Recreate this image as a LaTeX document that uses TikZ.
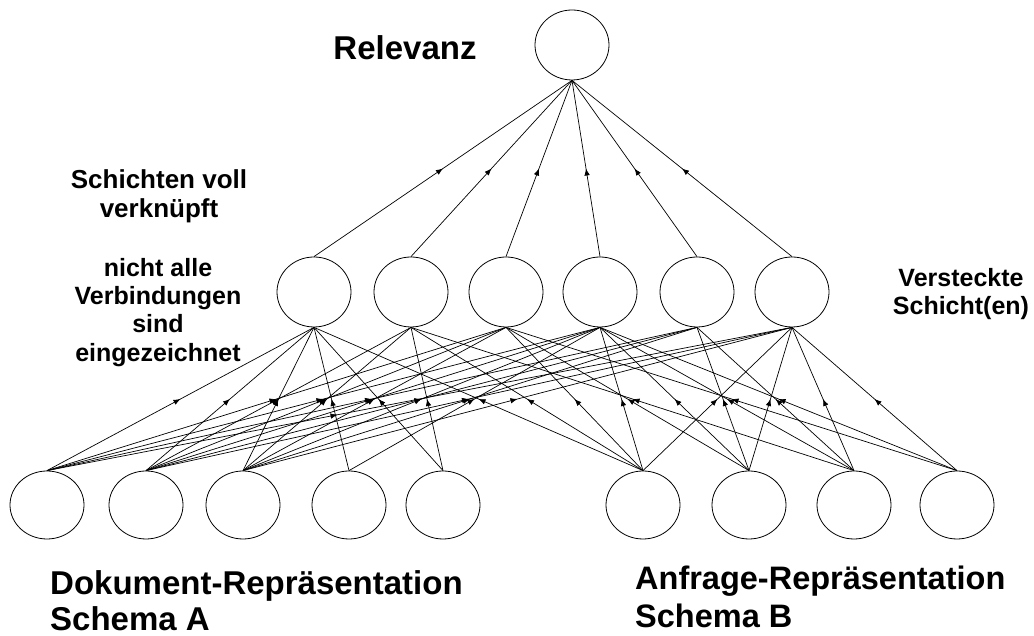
\documentclass[tikz,border=0pt]{standalone}
\usepackage{fontspec}
\setmainfont{Liberation Sans}
\usetikzlibrary{shapes.geometric,arrows.meta,decorations.markings}

\begin{document}
\begin{tikzpicture}[x=1pt,y=1pt,
  unit/.style={ellipse,draw,line width=0.8pt,minimum width=74pt,minimum height=68pt,inner sep=0pt},
  link/.style={line width=0.7pt,decoration={markings,mark=at position #1 with {\arrow{Latex[length=7pt,width=5.5pt]}}},postaction={decorate}},
  link/.default=0.5,
  note/.style={inner sep=0pt,align=center,font=\bfseries\fontsize{25}{28.3}\selectfont}]
\useasboundingbox (0,0) rectangle (1034,636);
\node[unit,minimum height=70pt] (rel) at (572,591) {};
\node[unit,minimum height=70pt] (hid1) at (314,344) {};
\node[unit,minimum height=70pt] (hid2) at (411,344) {};
\node[unit,minimum height=70pt] (hid3) at (506,344) {};
\node[unit,minimum height=70pt] (hid4) at (600,344) {};
\node[unit,minimum height=70pt] (hid5) at (697,344) {};
\node[unit,minimum height=70pt] (hid6) at (792,344) {};
\node[unit] (doc1) at (47,131) {};
\node[unit] (doc2) at (146,131) {};
\node[unit] (doc3) at (243,131) {};
\node[unit] (doc4) at (349,131) {};
\node[unit] (doc5) at (443,131) {};
\node[unit] (qry1) at (643,131) {};
\node[unit] (qry2) at (749,131) {};
\node[unit] (qry3) at (854,131) {};
\node[unit] (qry4) at (957,131) {};
\node[font=\bfseries\fontsize{33}{33}\selectfont] (relText) at (405,588) {Relevanz};
\node[note,anchor=north,font=\bfseries\fontsize{26}{29.5}\selectfont] (fullText) at (159,467) {Schichten voll\\verknüpft};
\node[note,anchor=north] (partText) at (158,378) {nicht alle\\Verbindungen\\sind\\eingezeichnet};
\node[note,anchor=north] (hidText) at (961,368) {Versteckte\\Schicht(en)};
\node[note,anchor=north west,align=left,font=\bfseries\fontsize{33}{36}\selectfont] (docText) at (50,66) {Dokument-Repräsentation\\Schema A};
\node[note,anchor=north west,align=left,font=\bfseries\fontsize{32.5}{37.5}\selectfont] (qryText) at (635,70) {Anfrage-Repräsentation\\Schema B};
\draw[link] (hid1.north) -- (rel.south);
\draw[link] (hid2.north) -- (rel.south);
\draw[link] (hid3.north) -- (rel.south);
\draw[link] (hid4.north) -- (rel.south);
\draw[link] (hid5.north) -- (rel.south);
\draw[link] (hid6.north) -- (rel.south);
\draw[link] (doc1.north) -- (hid1.south);
\draw[link] (doc1.north) -- (hid3.south);
\draw[link] (doc1.north) -- (hid4.south);
\draw[link] (doc1.north) -- (hid5.south);
\draw[link=0.39] (doc1.north) -- (hid6.south);
\draw[link] (doc2.north) -- (hid1.south);
\draw[link] (doc2.north) -- (hid2.south);
\draw[link] (doc2.north) -- (hid3.south);
\draw[link] (doc2.north) -- (hid4.south);
\draw[link] (doc2.north) -- (hid5.south);
\draw[link] (doc2.north) -- (hid6.south);
\draw[link] (doc3.north) -- (hid1.south);
\draw[link] (doc3.north) -- (hid2.south);
\draw[link] (doc3.north) -- (hid3.south);
\draw[link] (doc3.north) -- (hid4.south);
\draw[link] (doc3.north) -- (hid5.south);
\draw[link] (doc3.north) -- (hid6.south);
\draw[link] (doc4.north) -- (hid1.south);
\draw[link] (doc4.north) -- (hid4.south);
\draw[link] (doc5.north) -- (hid1.south);
\draw[link] (doc5.north) -- (hid2.south);
\draw[link] (qry1.north) -- (hid1.south);
\draw[link] (qry1.north) -- (hid2.south);
\draw[link] (qry1.north) -- (hid3.south);
\draw[link] (qry1.north) -- (hid4.south);
\draw[link] (qry1.north) -- (hid6.south);
\draw[link] (qry2.north) -- (hid3.south);
\draw[link] (qry2.north) -- (hid4.south);
\draw[link] (qry2.north) -- (hid5.south);
\draw[link] (qry2.north) -- (hid6.south);
\draw[link] (qry3.north) -- (hid2.south);
\draw[link] (qry3.north) -- (hid4.south);
\draw[link] (qry3.north) -- (hid5.south);
\draw[link] (qry3.north) -- (hid6.south);
\draw[link] (qry4.north) -- (hid3.south);
\draw[link] (qry4.north) -- (hid4.south);
\draw[link] (qry4.north) -- (hid6.south);
\end{tikzpicture}
\end{document}
